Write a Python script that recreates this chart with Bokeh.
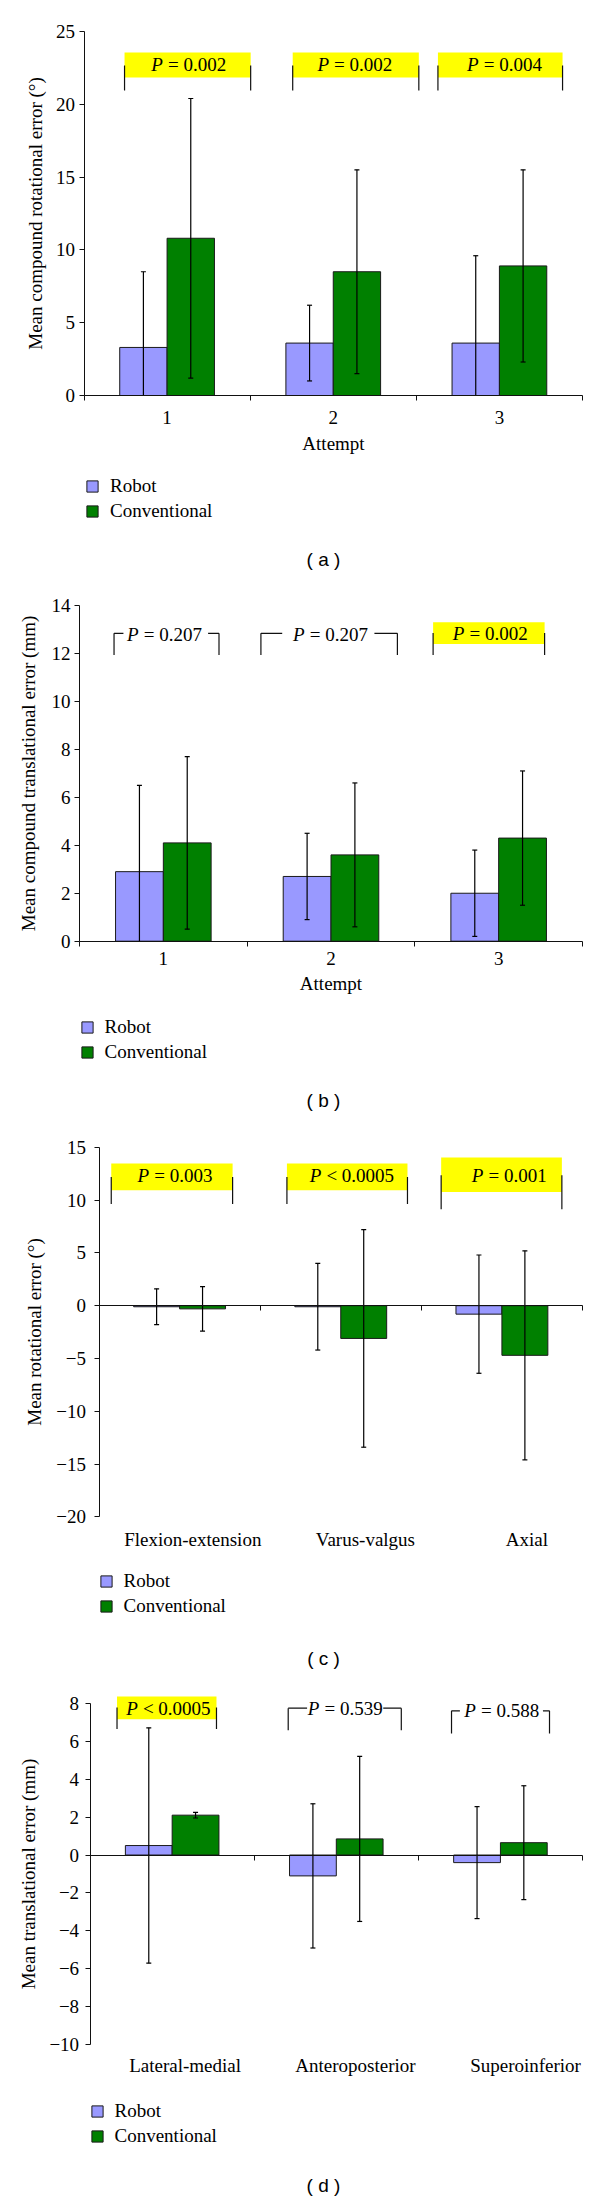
from bokeh.plotting import figure
from bokeh.models import (Range1d, FixedTicker, Legend, LegendItem, Label, LinearAxis)
from bokeh.layouts import column
from bokeh.embed import file_html
from bokeh.resources import INLINE
from bokeh.core.properties import value

# ---------------- data ----------------
SERIES = ["Robot", "Conventional"]

A_CATEGORIES = ["1", "2", "3"]
A_ROBOT = [3.3, 3.6, 3.6]
A_ROBOT_SD = [5.2, 2.6, 6.0]
A_CONV = [10.8, 8.5, 8.9]
A_CONV_SD = [9.6, 7.0, 6.6]
A_P = ["P = 0.002", "P = 0.002", "P = 0.004"]
A_YTICKS = [0, 5, 10, 15, 20, 25]
A_YTICKLABELS = ["0", "5", "10", "15", "20", "25"]
A_YTITLE = "Mean compound rotational error (°)"
A_XTITLE = "Attempt"

B_CATEGORIES = ["1", "2", "3"]
B_ROBOT = [2.9, 2.7, 2.0]
B_ROBOT_SD = [3.6, 1.8, 1.8]
B_CONV = [4.1, 3.6, 4.3]
B_CONV_SD = [3.6, 3.0, 2.8]
B_P = ["P = 0.207", "P = 0.207", "P = 0.002"]
B_YTICKS = [0, 2, 4, 6, 8, 10, 12, 14]
B_YTICKLABELS = ["0", "2", "4", "6", "8", "10", "12", "14"]
B_YTITLE = "Mean compound translational error (mm)"
B_XTITLE = "Attempt"

C_CATEGORIES = ["Flexion-extension", "Varus-valgus", "Axial"]
C_ROBOT = [-0.1, -0.1, -0.8]
C_ROBOT_SD = [1.7, 4.1, 5.6]
C_CONV = [-0.3, -3.1, -4.7]
C_CONV_SD = [2.1, 10.3, 9.9]
C_P = ["P = 0.003", "P < 0.0005", "P = 0.001"]
C_YTICKS = [-20, -15, -10, -5, 0, 5, 10, 15]
C_YTICKLABELS = ["\u221220", "\u221215", "\u221210", "\u22125", "0", "5", "10", "15"]
C_YTITLE = "Mean rotational error (°)"

D_CATEGORIES = ["Lateral-medial", "Anteroposterior", "Superoinferior"]
D_ROBOT = [0.5, -1.1, -0.4]
D_ROBOT_SD = [6.2, 3.8, 2.95]
D_CONV = [2.1, 0.85, 0.65]
D_CONV_SD = [0.15, 4.35, 3.0]
D_P = ["P < 0.0005", "P = 0.539", "P = 0.588"]
D_YTICKS = [-10, -8, -6, -4, -2, 0, 2, 4, 6, 8]
D_YTICKLABELS = ["\u221210", "\u22128", "\u22126", "\u22124", "\u22122", "0", "2", "4", "6", "8"]
D_YTITLE = "Mean translational error (mm)"

# ---------------- style / layout ----------------
COLORS = ["#9999FF", "#008000"]
SERIF = "Liberation Serif"
SANS = "Liberation Sans"
FS = 19
BAR_W = 0.285
W = 600
INK = "#111111"

# annotation geometry (x in category units, y in data units)
A_ANN = [
    dict(kind="box", x0=0.244, x1=1.003, ytop=22.66, ybot=20.95, bt=23.56, bb=21.84, tx=0.63, ty=22.7),
    dict(kind="box", x0=1.256, x1=2.015, ytop=22.66, ybot=20.95, bt=23.56, bb=21.84, tx=1.63, ty=22.7),
    dict(kind="box", x0=2.13, x1=2.88, ytop=22.66, ybot=20.95, bt=23.56, bb=21.84, tx=2.53, ty=22.7),
]
B_ANN = [
    dict(kind="bracket", x0=0.206, x1=0.832, ytop=12.84, ybot=11.94, gl=0.262, gr=0.767, tx=0.507, ty=12.8),
    dict(kind="bracket", x0=1.082, x1=1.896, ytop=12.84, ybot=11.94, gl=1.209, gr=1.759, tx=1.497, ty=12.8),
    dict(kind="box", x0=2.109, x1=2.774, ytop=12.85, ybot=11.94, bt=13.3, bb=12.39, tx=2.45, ty=12.85),
]
C_ANN = [
    dict(kind="box", x0=0.076, x1=0.829, ytop=12.18, ybot=9.64, bt=13.46, bb=10.93, tx=0.472, ty=12.3),
    dict(kind="box", x0=1.166, x1=1.914, ytop=12.18, ybot=9.64, bt=13.46, bb=10.93, tx=1.569, ty=12.3),
    dict(kind="box", x0=2.123, x1=2.872, ytop=12.35, ybot=9.13, bt=14.03, bb=10.76, tx=2.545, ty=12.35),
]
D_ANN = [
    dict(kind="box", x0=0.164, x1=0.770, ytop=7.78, ybot=6.64, bt=8.35, bb=7.16, tx=0.477, ty=7.72),
    dict(kind="bracket", x0=1.207, x1=1.896, ytop=7.74, ybot=6.57, gl=1.322, gr=1.786, tx=1.554, ty=7.7),
    dict(kind="bracket", x0=2.202, x1=2.799, ytop=7.6, ybot=6.4, gl=2.253, gr=2.759, tx=2.508, ty=7.6),
]

CHAR_W = {" ": 0.25, "=": 0.564, "<": 0.564, ".": 0.25}


def text_w(s):
    return FS * sum(CHAR_W.get(c, 0.5) for c in s)


def draw_p(p, ann, ptext):
    k = ann
    if k["kind"] == "box":
        p.quad(left=[k["x0"]], right=[k["x1"]], bottom=[k["bb"]], top=[k["bt"]],
               fill_color="#FFFF00", line_color=None)
        p.segment(x0=[k["x0"], k["x1"]], x1=[k["x0"], k["x1"]],
                  y0=[k["ybot"], k["ybot"]], y1=[k["ytop"], k["ytop"]],
                  line_color=INK, line_width=1.2)
    else:
        p.segment(x0=[k["x0"], k["x0"], k["gr"], k["x1"]],
                  x1=[k["x0"], k["gl"], k["x1"], k["x1"]],
                  y0=[k["ybot"], k["ytop"], k["ytop"], k["ytop"]],
                  y1=[k["ytop"], k["ytop"], k["ytop"], k["ybot"]],
                  line_color=INK, line_width=1.2)
    head = ptext[0]
    rest = ptext[1:].strip()
    wp = 0.611 * FS
    gap = 0.27 * FS
    total = wp + gap + text_w(rest)
    p.text(x=[k["tx"]], y=[k["ty"]], text=[head], text_align="right", text_baseline="middle",
           x_offset=-total / 2 + wp, text_font=value(SERIF), text_font_size=f"{FS}px",
           text_font_style="italic", text_color="black")
    p.text(x=[k["tx"]], y=[k["ty"]], text=[rest], text_align="left", text_baseline="middle",
           x_offset=-total / 2 + wp + gap, text_font=value(SERIF), text_font_size=f"{FS}px",
           text_color="black")


def make_panel(cats, robot, robot_sd, conv, conv_sd, pvals, yticks, yticklabels, ytitle,
               xtitle, caption, ann, L):
    y0, y1 = yticks[0], yticks[-1]
    # map page pixels to data so that the whole canvas is the frame
    ux = (L["x3px"] - L["x0px"]) / 3.0
    xs0 = (0 - L["x0px"]) / ux
    xs1 = (W - L["x0px"]) / ux
    uy = (L["ybot_px"] - L["ytop_px"]) / float(y1 - y0)
    ys1 = y1 + (L["ytop_px"] - L["top"]) / uy
    ys0 = y0 - (L["top"] + L["height"] - L["ybot_px"]) / uy

    p = figure(width=W, height=L["height"], x_range=Range1d(xs0, xs1),
               y_range=Range1d(ys0, ys1), toolbar_location=None, output_backend="svg",
               x_axis_location=None, y_axis_location=None, min_border=0)
    p.outline_line_color = None
    p.grid.visible = False
    p.background_fill_color = "white"
    p.border_fill_color = "white"

    centers = [i + 0.5 for i in range(len(cats))]
    xr = [c - BAR_W / 2 for c in centers]
    xc = [c + BAR_W / 2 for c in centers]

    # y axis on the left edge of category 0
    ya = LinearAxis(fixed_location=0, bounds=(y0, y1), ticker=FixedTicker(ticks=yticks))
    ya.major_label_overrides = {float(t): lab for t, lab in zip(yticks, yticklabels)}
    ya.major_tick_out = 5
    ya.major_tick_in = 0
    ya.minor_tick_line_color = None
    ya.axis_line_color = INK
    ya.major_tick_line_color = INK
    ya.major_label_text_font = SERIF
    ya.major_label_text_font_size = f"{FS}px"
    ya.major_label_text_color = "black"
    ya.major_label_standoff = L["ytick_standoff"]
    ya.axis_label = ytitle
    ya.axis_label_text_font = SERIF
    ya.axis_label_text_font_size = f"{FS}px"
    ya.axis_label_text_font_style = "normal"
    ya.axis_label_text_color = "black"
    ya.axis_label_standoff = L["ytitle_standoff"]
    p.add_layout(ya, "left")

    label_pos = [c + s for c, s in zip(centers, L["xlabel_shift"])]
    overrides = {float(c): lab for c, lab in zip(label_pos, cats)}
    if L["zero_axis"]:
        zax = LinearAxis(fixed_location=0, bounds=(0, 3),
                         ticker=FixedTicker(ticks=[], minor_ticks=[1, 2, 3]),
                         major_tick_out=0, major_tick_in=0, minor_tick_out=5, minor_tick_in=0,
                         minor_tick_line_color=INK, axis_line_color=INK)
        p.add_layout(zax, "below")
        lax = LinearAxis(fixed_location=y0, bounds=(0, 3), ticker=FixedTicker(ticks=label_pos),
                         axis_line_color=None, major_tick_line_color=None,
                         minor_tick_line_color=None, major_tick_out=0, major_tick_in=0)
    else:
        lax = LinearAxis(fixed_location=0, bounds=(0, 3),
                         ticker=FixedTicker(ticks=label_pos, minor_ticks=[0, 1, 2, 3]),
                         axis_line_color=INK, major_tick_line_color=None,
                         minor_tick_line_color=INK, major_tick_out=0, major_tick_in=0,
                         minor_tick_out=5, minor_tick_in=0)
        if xtitle:
            lax.axis_label = xtitle
            lax.axis_label_text_font = SERIF
            lax.axis_label_text_font_size = f"{FS}px"
            lax.axis_label_text_font_style = "normal"
            lax.axis_label_text_color = "black"
            lax.axis_label_standoff = L["xtitle_standoff"]
    lax.major_label_overrides = overrides
    lax.major_label_text_font = SERIF
    lax.major_label_text_font_size = f"{FS}px"
    lax.major_label_text_color = "black"
    lax.major_label_standoff = L["xtick_standoff"]
    p.add_layout(lax, "below")

    rr = p.vbar(x=xr, top=robot, bottom=0, width=BAR_W, fill_color=COLORS[0],
                line_color="#1a1a1a", line_width=1)
    rc = p.vbar(x=xc, top=conv, bottom=0, width=BAR_W, fill_color=COLORS[1],
                line_color="#1a1a1a", line_width=1)

    for xs, m, sd in ((xr, robot, robot_sd), (xc, conv, conv_sd)):
        lo = [max(a - b, y0) for a, b in zip(m, sd)]
        hi = [a + b for a, b in zip(m, sd)]
        capy = [a - b for a, b in zip(m, sd) if a - b >= y0]
        capx = [x for x, a, b in zip(xs, m, sd) if a - b >= y0]
        p.segment(x0=xs, x1=xs, y0=lo, y1=hi, line_color="black", line_width=1.2)
        p.scatter(x=list(xs) + capx, y=hi + capy, marker="dash", size=5, line_color="black",
                  line_width=1.2)

    for a, t in zip(ann, pvals):
        draw_p(p, a, t)

    legend = Legend(items=[LegendItem(label=SERIES[0], renderers=[rr]),
                           LegendItem(label=SERIES[1], renderers=[rc])],
                    location=(L["legend_x"], L["legend_y"]), orientation="vertical",
                    glyph_width=14, glyph_height=14, label_height=21, spacing=3,
                    label_standoff=11, padding=0, margin=0,
                    border_line_color=None, background_fill_alpha=0,
                    label_text_font=SERIF, label_text_font_size=f"{FS}px",
                    label_text_color="black")
    p.add_layout(legend)

    p.add_layout(Label(x=L["cap_x"], y=L["cap_y"], x_units="screen", y_units="screen",
                       text=caption, text_align="center", text_baseline="middle",
                       text_font=SANS, text_font_size="19px", text_color="black"))
    return p


LA = dict(top=0, height=575, x0px=83.5, x3px=582, ytop_px=31, ybot_px=395,
          ytick_standoff=4, ytitle_standoff=8, xtick_standoff=10, xtitle_standoff=6,
          xlabel_shift=[0, 0, 0], zero_axis=False,
          legend_x=85, legend_y=53.5, cap_x=323, cap_y=16)
LB = dict(top=575, height=540, x0px=79, x3px=582, ytop_px=605, ybot_px=940.7,
          ytick_standoff=4, ytitle_standoff=10, xtick_standoff=6, xtitle_standoff=4,
          xlabel_shift=[0, 0, 0], zero_axis=False,
          legend_x=79.6, legend_y=51.9, cap_x=323, cap_y=15)
LC = dict(top=1115, height=560, x0px=98.5, x3px=582, ytop_px=1146.8, ybot_px=1516.4,
          ytick_standoff=8, ytitle_standoff=9, xtick_standoff=12, xtitle_standoff=0,
          xlabel_shift=[0.082, 0.153, 0.155], zero_axis=True,
          legend_x=98.5, legend_y=57.6, cap_x=323, cap_y=17.5)
LD = dict(top=1675, height=525, x0px=89.6, x3px=582, ytop_px=1702.7, ybot_px=2044.3,
          ytick_standoff=6, ytitle_standoff=8, xtick_standoff=10, xtitle_standoff=0,
          xlabel_shift=[0.079, 0.117, 0.153], zero_axis=True,
          legend_x=89.5, legend_y=53.5, cap_x=323, cap_y=15)

pa = make_panel(A_CATEGORIES, A_ROBOT, A_ROBOT_SD, A_CONV, A_CONV_SD, A_P, A_YTICKS,
                A_YTICKLABELS, A_YTITLE, A_XTITLE, "( a )", A_ANN, LA)
pb = make_panel(B_CATEGORIES, B_ROBOT, B_ROBOT_SD, B_CONV, B_CONV_SD, B_P, B_YTICKS,
                B_YTICKLABELS, B_YTITLE, B_XTITLE, "( b )", B_ANN, LB)
pc = make_panel(C_CATEGORIES, C_ROBOT, C_ROBOT_SD, C_CONV, C_CONV_SD, C_P, C_YTICKS,
                C_YTICKLABELS, C_YTITLE, None, "( c )", C_ANN, LC)
pd = make_panel(D_CATEGORIES, D_ROBOT, D_ROBOT_SD, D_CONV, D_CONV_SD, D_P, D_YTICKS,
                D_YTICKLABELS, D_YTITLE, None, "( d )", D_ANN, LD)

layout = column(pa, pb, pc, pd, spacing=0)
open("out.html", "w").write(file_html(layout, INLINE))
